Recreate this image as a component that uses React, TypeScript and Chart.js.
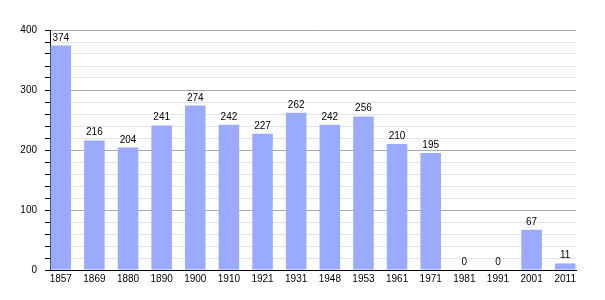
import React, { useEffect, useRef } from "react";
import { Chart, registerables } from "chart.js";

Chart.register(...registerables);

const years = ["1857", "1869", "1880", "1890", "1900", "1910", "1921", "1931", "1948", "1953", "1961", "1971", "1981", "1991", "2001", "2011"];
const population = [374, 216, 204, 241, 274, 242, 227, 262, 242, 256, 210, 195, 0, 0, 67, 11];
const yTicksMajor = [0, 100, 200, 300, 400];

const valueLabels = {
  id: "valueLabels",
  afterDatasetsDraw(chart: any) {
    const ctx = chart.ctx;
    const meta = chart.getDatasetMeta(0);
    ctx.save();
    ctx.fillStyle = "#000";
    ctx.font = "10px 'Liberation Sans', Arial, sans-serif";
    ctx.textAlign = "center";
    ctx.textBaseline = "alphabetic";
    meta.data.forEach((el: any, i: number) => {
      ctx.fillText(String(population[i]), el.x, el.y - 5);
    });
    ctx.restore();
  },
};

export default function App() {
  const ref = useRef<HTMLCanvasElement>(null);
  useEffect(() => {
    if (!ref.current) return;
    Chart.defaults.font.family = "'Liberation Sans', Arial, sans-serif";
    Chart.defaults.font.size = 10;
    Chart.defaults.color = "#000";
    const chart = new Chart(ref.current, {
      type: "bar",
      data: {
        datasets: [
          {
            data: population.map((v, i) => ({ x: i, y: v })),
            backgroundColor: "#99aaff",
            borderWidth: 0,
            categoryPercentage: 1,
            barPercentage: 0.61,
          },
        ],
      },
      options: {
        responsive: false,
        animation: false,
        layout: { padding: { left: 0, right: 29, top: 30, bottom: 0 } },
        plugins: { legend: { display: false }, tooltip: { enabled: false } },
        scales: {
          x: {
            type: "linear",
            min: -0.32,
            max: 15.32,
            offset: false,
            afterBuildTicks: (scale: any) => {
              scale.ticks = years.map((_, i) => ({ value: i }));
            },
            afterFit: (scale: any) => {
              scale.height = 30;
            },
            ticks: {
              autoSkip: false,
              maxRotation: 0,
              padding: 3,
              callback: (v: any) => years[v as number],
            },
            grid: { display: true, drawOnChartArea: false, drawTicks: false },
            border: { display: true, color: "#000", width: 1 },
          },
          y: {
            min: 0,
            max: 400,
            afterFit: (scale: any) => {
              scale.width = 50;
            },
            ticks: {
              stepSize: 20,
              padding: 8,
              autoSkip: false,
              callback: (v: any) => (yTicksMajor.includes(v as number) ? String(v) : ""),
            },
            grid: {
              color: (c: any) => (c.tick && c.tick.value % 100 === 0 ? "#aaaaaa" : "#e2e2e2"),
              tickColor: "#000",
              tickLength: 5,
              lineWidth: 1,
            },
            border: { display: true, color: "#000", width: 1 },
          },
        },
      },
      plugins: [valueLabels],
    });
    return () => chart.destroy();
  }, []);
  return (
    <canvas
      ref={ref}
      width={605}
      height={300}
      style={{ position: "absolute", left: 0, top: 0, width: 605, height: 300 }}
    />
  );
}
